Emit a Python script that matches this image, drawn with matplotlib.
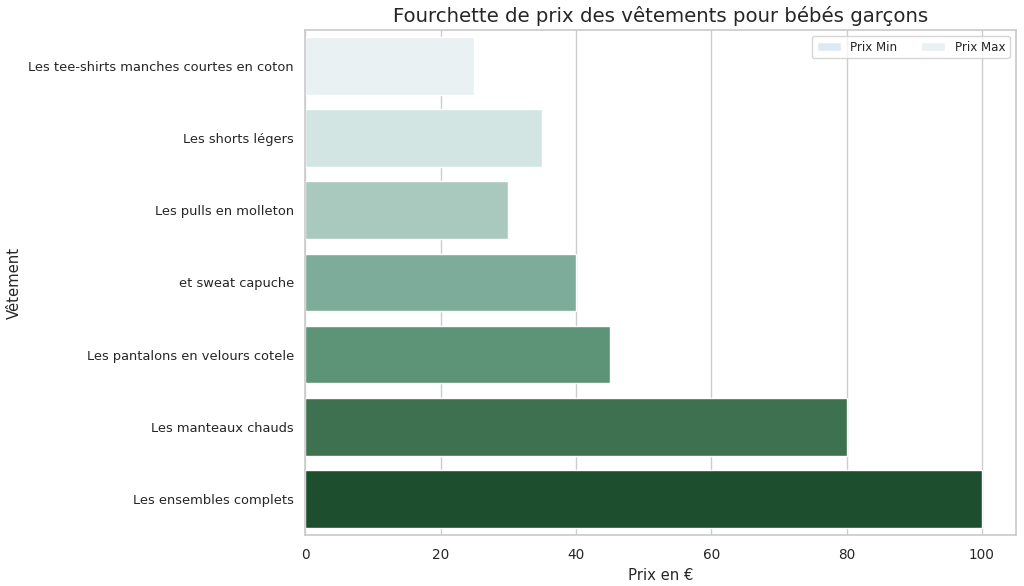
import matplotlib
matplotlib.use('Agg')
import matplotlib.pyplot as plt
import seaborn as sns

# Données
vetements = ['Les tee-shirts manches courtes en coton', 'Les shorts légers',
             'Les pulls en molleton', 'et sweat capuche',
             'Les pantalons en velours cotele', 'Les manteaux chauds',
             'Les ensembles complets']
prix_min = [10, 15, 15, 20, 20, 40, 50]
prix_max = [25, 35, 30, 40, 45, 80, 100]

couleurs_min = ['#dde9f4', '#c6dbef', '#9ecae1', '#6baed6', '#4292c6', '#2171b5', '#08519c']
couleurs_max = ['#e9f1f2', '#d3e5e2', '#a9c9bf', '#7eac9a', '#5d9477', '#3d714f', '#1d4f2f']

sns.set_theme(style='whitegrid')

fig, ax = plt.subplots(figsize=(10.24, 5.86), dpi=100)
ax.barh(vetements, prix_min, color=couleurs_min, height=0.8, label='Prix Min')
ax.barh(vetements, prix_max, color=couleurs_max, height=0.8, label='Prix Max')
ax.set_ylim(len(vetements) - 0.5, -0.5)
ax.grid(axis='y', visible=False)
ax.tick_params(axis='x', labelsize=9.8)
ax.tick_params(axis='y', labelsize=9.4, pad=2)

ax.set_title('Fourchette de prix des vêtements pour bébés garçons', fontsize=14.2)
ax.set_xlabel('Prix en €', fontsize=10.7)
ax.set_ylabel('Vêtement', fontsize=10.7)
ax.yaxis.set_label_coords(-0.398, 0.5)
ax.legend(ncol=2, loc='upper right', fontsize=8.6)

plt.subplots_adjust(left=0.298, right=0.992, top=0.949, bottom=0.087)
plt.savefig('out.png')
